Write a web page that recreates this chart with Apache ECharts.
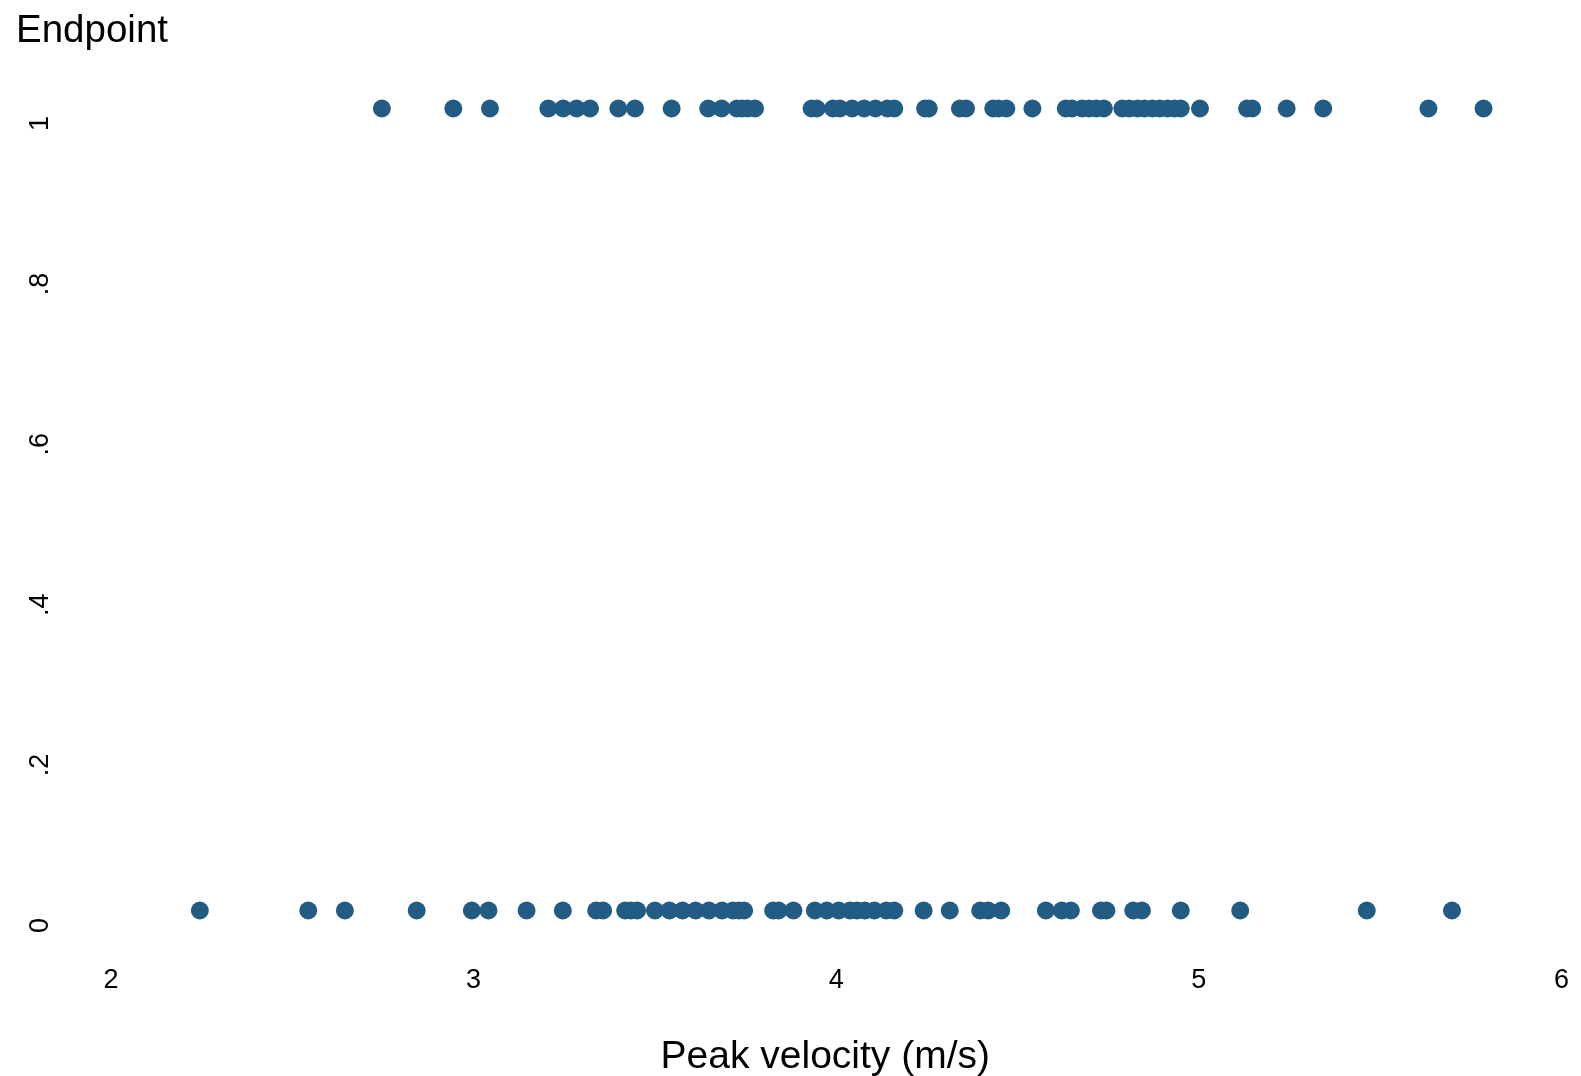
<!DOCTYPE html>
<html>
<head>
<meta charset="utf-8">
<script src="https://cdn.jsdelivr.net/npm/echarts@6/dist/echarts.min.js"></script>
<style>
html,body{margin:0;padding:0;background:#fff;}
#chart{width:1581px;height:1076px;}
</style>
</head>
<body>
<div id="chart"></div>
<script>
// Peak velocity (m/s) for cases with Endpoint = 1
const velocityEndpoint1 = [2.747, 2.944, 3.045, 3.206, 3.247, 3.284, 3.321, 3.399, 3.445, 3.546,
  3.647, 3.684, 3.726, 3.740, 3.755, 3.776, 3.932, 3.946, 3.991, 4.010, 4.044, 4.077, 4.108,
  4.141, 4.160, 4.245, 4.255, 4.341, 4.358, 4.433, 4.447, 4.469, 4.541, 4.633, 4.650, 4.678,
  4.697, 4.717, 4.738, 4.789, 4.808, 4.831, 4.850, 4.872, 4.892, 4.914, 4.933, 4.950, 5.003,
  5.133, 5.147, 5.242, 5.343, 5.633, 5.785];
// Peak velocity (m/s) for cases with Endpoint = 0
const velocityEndpoint0 = [2.245, 2.544, 2.645, 2.843, 2.995, 3.041, 3.146, 3.246, 3.338, 3.357,
  3.418, 3.434, 3.451, 3.500, 3.540, 3.576, 3.612, 3.649, 3.685, 3.715, 3.732, 3.746, 3.826,
  3.841, 3.882, 3.941, 3.974, 4.007, 4.038, 4.057, 4.079, 4.105, 4.138, 4.160, 4.241, 4.313,
  4.397, 4.419, 4.455, 4.578, 4.622, 4.647, 4.730, 4.745, 4.819, 4.843, 4.950, 5.114, 5.463,
  5.698];
const yTickLabels = ['0', '.2', '.4', '.6', '.8', '1'];
const xTickLabels = ['2', '3', '4', '5', '6'];
const xTitle = 'Peak velocity (m/s)';
const yTitle = 'Endpoint';

const points = velocityEndpoint0.map(v => [v, 0]).concat(velocityEndpoint1.map(v => [v, 1]));

const FONT = '"Liberation Sans", Arial, Helvetica, sans-serif';
const chart = echarts.init(document.getElementById('chart'), null, {renderer: 'canvas'});
chart.setOption({
  backgroundColor: '#ffffff',
  animation: false,
  title: {
    text: yTitle,
    left: 16,
    top: 12,
    padding: 0,
    textStyle: {fontFamily: FONT, fontSize: 38.5, fontWeight: 'normal', color: '#000'}
  },
  grid: {left: 111, right: 19.5, top: 108.5, bottom: 165.5, containLabel: false, outerBoundsMode: 'none'},
  xAxis: {
    type: 'value',
    min: 2, max: 6, interval: 1,
    name: xTitle,
    nameLocation: 'middle',
    nameGap: 127,
    nameTextStyle: {fontFamily: FONT, fontSize: 39, color: '#000', padding: [0, 22, 0, 0]},
    axisLine: {show: false},
    axisTick: {show: false},
    splitLine: {show: false},
    axisLabel: {
      fontFamily: FONT, fontSize: 27, color: '#000', margin: 57,
      formatter: (v, i) => xTickLabels[i]
    }
  },
  yAxis: {
    type: 'value',
    min: 0, max: 1, interval: 0.2,
    axisLine: {show: false},
    axisTick: {show: false},
    splitLine: {show: false},
    axisLabel: {
      fontFamily: FONT, fontSize: 27, color: '#000', rotate: 90, margin: 57,
      padding: [0, 30, 0, 0],
      formatter: (v, i) => yTickLabels[i]
    }
  },
  series: [{
    type: 'scatter',
    data: points,
    symbol: 'circle',
    symbolSize: 18,
    clip: false,
    itemStyle: {color: '#225b83', opacity: 1}
  }]
});
</script>
</body>
</html>
